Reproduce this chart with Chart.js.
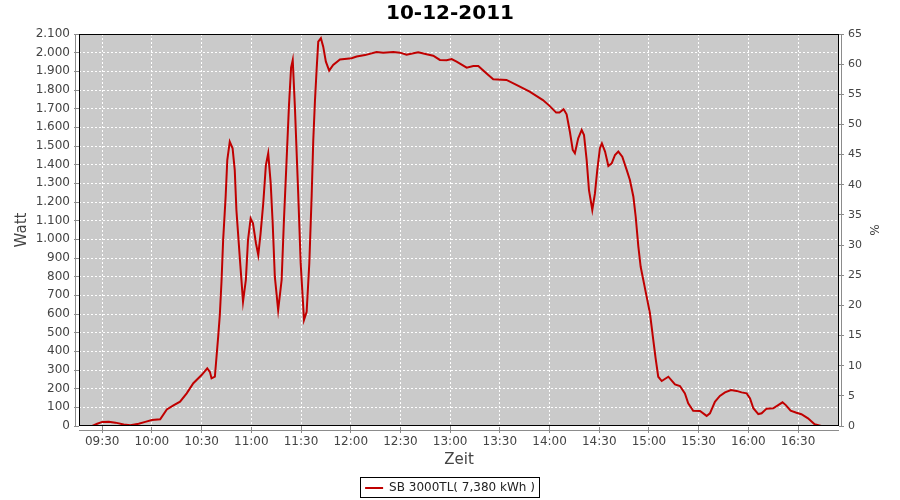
<!DOCTYPE html>
<html>
<head>
<meta charset="utf-8">
<script src="https://cdn.jsdelivr.net/npm/chart.js@4"></script>
<style>
html,body{margin:0;padding:0;background:#ffffff;}
#wrap{width:900px;height:500px;}
</style>
</head>
<body>
<div id="wrap"><canvas id="c" width="900" height="500"></canvas></div>
<script>
// ---------- data ----------
const chartTitle = '10-12-2011';
const seriesName = 'SB 3000TL( 7,380 kWh )';
const xAxisTitle = 'Zeit';
const yAxisTitle = 'Watt';
const y2AxisTitle = '%';

// time of day in minutes since midnight
const timeMinutes = [
  564, 567, 570, 574, 578, 583, 587, 592, 596, 600,
  605, 609, 613, 617, 621, 625, 630, 633.4, 635, 636,
  638, 640, 641, 642, 643, 644.5, 645.5, 647, 648.7, 650,
  651, 653, 655, 656.7, 658, 659.6, 661, 662.8, 664.2, 665.6,
  667.2, 668.8, 670.2, 671.7, 672.9, 674.2, 676.2, 678.3, 679.7, 681.3,
  682.7, 684, 685, 686.3, 688.3, 689.8, 691.8, 693.4, 695, 696.4,
  697.4, 698.4, 699.4, 700.4, 702, 703.4, 705, 707, 709.4, 713.5,
  720.5, 723.6, 728.6, 735.6, 739.6, 745.7, 749.7, 753.7, 760.7, 765.8,
  769.8, 773.8, 777.9, 780.9, 783.9, 790, 794, 797, 802, 806,
  814, 820, 828, 836, 840, 844, 846, 848.5, 850.3, 852.3,
  854, 855.3, 857.3, 859.4, 860.8, 862.4, 863.8, 865.8, 867.4, 868.8,
  870.4, 871.6, 873.5, 875.5, 877.5, 879.5, 881.5, 883.9, 886.6, 888.5,
  890.6, 892, 893.6, 895, 897, 898.6, 900.6, 902.6, 904, 905.6,
  907.7, 911.7, 915.7, 918.7, 921.7, 923.7, 926.7, 930.8, 934.8, 936.8,
  939.8, 942.8, 945.9, 949.5, 952.9, 955.9, 959, 961, 963, 966,
  968, 971, 975, 978, 980.6, 982.6, 985.5, 989, 992, 996,
  1000, 1004, 1006
];
const watts = [
  0, 12, 22, 23, 18, 8, 4, 12, 22, 32,
  36, 89, 110, 130, 175, 229, 273, 309, 290, 255,
  264, 478, 595, 773, 996, 1228, 1425, 1523, 1488, 1371,
  1157, 907, 666, 782, 996, 1112, 1086, 979, 916, 1032,
  1193, 1398, 1461, 1300, 1086, 800, 621, 782, 1104, 1425,
  1711, 1920, 1960, 1711, 1246, 871, 568, 612, 871, 1228,
  1532, 1740, 1907, 2059, 2077, 2032, 1952, 1904, 1934, 1964,
  1970, 1979, 1987, 2004, 2000, 2004, 2000, 1989, 2002, 1991,
  1984, 1961, 1959, 1966, 1952, 1920, 1929, 1929, 1889, 1857,
  1854, 1827, 1791, 1746, 1715, 1679, 1679, 1697, 1670, 1575,
  1479, 1461, 1541, 1586, 1559, 1425, 1264, 1157, 1246, 1371,
  1488, 1514, 1470, 1393, 1407, 1452, 1470, 1443, 1371, 1318,
  1228, 1121, 961, 853, 764, 693, 604, 461, 363, 264,
  241, 264, 223, 214, 175, 122, 82, 80, 54, 68,
  130, 161, 180, 193, 188, 180, 175, 148, 95, 64,
  68, 93, 95, 112, 127, 112, 82, 71, 63, 41,
  9, 0, 0
];

const xTickValues = [570, 600, 630, 660, 690, 720, 750, 780, 810, 840, 870, 900, 930, 960, 990];
const xTickLabels = ['09:30','10:00','10:30','11:00','11:30','12:00','12:30','13:00','13:30','14:00','14:30','15:00','15:30','16:00','16:30'];
const xRange = [556, 1014.7];
const yRange = [0, 2100];
const yStep = 100;
const y2Range = [0, 65];
const y2Step = 5;

// ---------- layout ----------
const W = 900, H = 500;
const AREA = {left: 79, right: 839, top: 34, bottom: 426};
const PAD_BOTTOM = -4;

function fmtThousands(v) {
  v = Math.round(v);
  if (v >= 1000) return Math.floor(v / 1000) + '.' + String(v % 1000).padStart(3, '0');
  return String(v);
}

const tickFont = {family: 'DejaVu Sans', size: 12};
const tickColor = '#444444';

const framePlugin = {
  id: 'frame',
  beforeDraw(chart) {
    const {ctx, chartArea: a} = chart;
    ctx.save();
    ctx.fillStyle = '#cacaca';
    ctx.fillRect(a.left, a.top, a.right - a.left, a.bottom - a.top);
    ctx.restore();
  },
  afterDraw(chart) {
    const {ctx, chartArea: a} = chart;
    ctx.save();
    // plot outline
    ctx.strokeStyle = '#000000';
    ctx.lineWidth = 1;
    ctx.strokeRect(Math.round(a.left) + 0.5, Math.round(a.top) + 0.5,
                   Math.round(a.right - a.left) - 1, Math.round(a.bottom - a.top) - 1);
    // offset axis lines
    ctx.strokeStyle = '#8c8c8c';
    ctx.beginPath();
    ctx.moveTo(Math.round(a.left) - 3.5, a.top);
    ctx.lineTo(Math.round(a.left) - 3.5, a.bottom);
    ctx.moveTo(Math.round(a.right) + 2.5, a.top);
    ctx.lineTo(Math.round(a.right) + 2.5, a.bottom);
    ctx.moveTo(a.left, Math.round(a.bottom) + 4.5);
    ctx.lineTo(a.right, Math.round(a.bottom) + 4.5);
    ctx.stroke();
    // legend frame
    const hb = chart.legend && chart.legend.legendHitBoxes && chart.legend.legendHitBoxes[0];
    if (hb) {
      ctx.strokeStyle = '#000000';
      ctx.strokeRect(Math.round(hb.left) - 4.5, Math.round(hb.top) - 4.5,
                     Math.round(hb.width) + 9, Math.round(hb.height) + 8);
    }
    ctx.restore();
  }
};

const points = timeMinutes.map((t, i) => ({x: t, y: watts[i]}));

new Chart(document.getElementById('c'), {
  type: 'line',
  data: {
    datasets: [{
      label: seriesName,
      data: points,
      borderColor: '#c00000',
      backgroundColor: '#c00000',
      borderWidth: 2,
      pointRadius: 0,
      tension: 0,
      fill: false,
      yAxisID: 'y'
    }]
  },
  options: {
    responsive: false,
    animation: false,
    devicePixelRatio: 1,
    layout: {padding: {left: 0, right: 0, top: 0, bottom: PAD_BOTTOM}},
    plugins: {
      title: {
        display: true,
        text: chartTitle,
        color: '#000000',
        font: {family: 'DejaVu Sans', size: 20, weight: 'bold'},
        padding: {top: 2, bottom: 8}
      },
      legend: {
        position: 'bottom',
        labels: {
          usePointStyle: true,
          pointStyle: 'line',
          pointStyleWidth: 18,
          boxHeight: 12,
          color: '#222222',
          font: {family: 'DejaVu Sans', size: 12},
          padding: 0
        }
      },
      tooltip: {enabled: false}
    },
    scales: {
      x: {
        type: 'linear',
        min: xRange[0],
        max: xRange[1],
        afterBuildTicks: s => { s.ticks = xTickValues.map(v => ({value: v})); },
        afterFit: s => { s.height = H - AREA.bottom - s.chart.legend.height - PAD_BOTTOM; },
        ticks: {
          autoSkip: false,
          maxRotation: 0,
          padding: 2,
          color: tickColor,
          font: tickFont,
          callback: v => xTickLabels[xTickValues.indexOf(v)]
        },
        grid: {color: '#ffffff', lineWidth: 1, tickColor: '#8c8c8c', tickLength: 7},
        border: {display: false, dash: [2, 2]},
        title: {
          display: true, text: xAxisTitle, color: '#444444',
          font: {family: 'DejaVu Sans', size: 15},
          padding: {top: 0, bottom: 13}
        }
      },
      y: {
        position: 'left',
        min: yRange[0],
        max: yRange[1],
        afterFit: s => { s.width = AREA.left; },
        ticks: {
          stepSize: yStep,
          padding: 4,
          color: tickColor,
          font: tickFont,
          callback: v => fmtThousands(v)
        },
        grid: {color: '#ffffff', lineWidth: 1, tickColor: '#8c8c8c', tickLength: 5},
        border: {display: false, dash: [2, 2]},
        title: {
          display: true, text: yAxisTitle, color: '#444444',
          font: {family: 'DejaVu Sans', size: 15},
          padding: {top: 13, bottom: 0}
        }
      },
      y1: {
        position: 'right',
        min: y2Range[0],
        max: y2Range[1],
        afterFit: s => { s.width = W - AREA.right; },
        ticks: {
          stepSize: y2Step,
          padding: 4,
          color: tickColor,
          font: {family: 'DejaVu Sans', size: 11}
        },
        grid: {drawOnChartArea: false, tickColor: '#8c8c8c', tickLength: 5},
        border: {display: false},
        title: {
          display: true, text: y2AxisTitle, color: '#444444',
          font: {family: 'DejaVu Sans', size: 12},
          padding: {top: 20, bottom: 0}
        }
      }
    }
  },
  plugins: [framePlugin]
});
</script>
</body>
</html>
